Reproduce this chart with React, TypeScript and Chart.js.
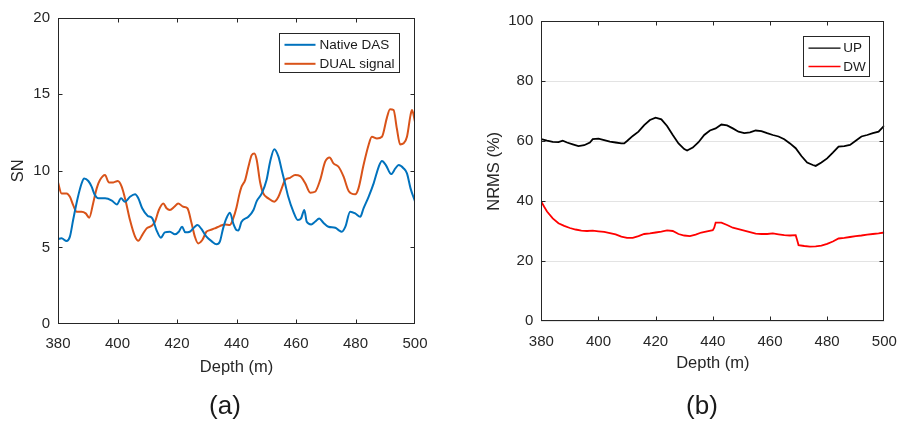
import React, { useEffect, useRef } from "react";
import { Chart, registerables } from "chart.js";

Chart.register(...registerables);

// ---------- data (a) ----------
const depthNative = [380, 381.2, 382.9, 384.0, 385.1, 386.6, 387.9, 388.8, 390.2, 391.3, 392.4, 393.6, 395.8, 398.1, 399.8, 401.2, 402.5, 404.2, 405.9, 407.0, 408.3, 410.1, 411.7, 413.1, 414.6, 415.9, 417.6, 419.3, 420.6, 421.7, 422.8, 424.3, 426.0, 426.9, 428.2, 429.9, 431.6, 433.3, 434.4, 435.5, 436.6, 437.8, 438.9, 440.0, 440.6, 441.7, 444.0, 445.7, 446.8, 448.5, 450.1, 451.3, 452.7, 454.1, 455.2, 456.3, 457.4, 459.1, 460.6, 461.7, 462.8, 463.6, 465.1, 466.4, 467.8, 469.2, 470.9, 473.2, 474.3, 475.4, 476.6, 478.2, 479.9, 481.6, 482.7, 484.4, 486.1, 487.8, 488.9, 490.2, 492.0, 493.4, 494.5, 496.2, 497.3, 498.5, 500];
const snNative = [5.54, 5.59, 5.41, 5.7, 6.8, 8.2, 9.15, 9.5, 9.33, 8.96, 8.41, 8.2, 8.2, 8.05, 7.8, 8.2, 7.98, 8.3, 8.46, 8.2, 7.55, 7.07, 6.89, 6.13, 5.63, 5.98, 6.02, 5.85, 6.02, 6.35, 5.98, 6.02, 6.35, 6.46, 6.2, 5.7, 5.41, 5.2, 5.37, 6.24, 6.89, 7.26, 6.57, 6.13, 6.1, 6.67, 7.0, 7.44, 8.02, 8.52, 9.39, 10.59, 11.41, 10.92, 10.05, 9.18, 8.3, 7.33, 6.78, 6.89, 7.44, 6.67, 6.5, 6.67, 6.89, 6.61, 6.35, 6.28, 6.13, 6.02, 6.35, 7.33, 7.22, 7.0, 7.55, 8.3, 9.18, 10.26, 10.63, 10.37, 9.78, 10.15, 10.37, 10.15, 9.83, 8.85, 8.0];

const depthDual = [380, 381.2, 382.9, 384.0, 385.1, 386.3, 387.9, 389.3, 390.5, 391.8, 393.0, 394.1, 395.8, 397.1, 398.6, 400.1, 401.4, 402.8, 404.2, 405.9, 407.0, 408.3, 409.8, 411.5, 412.6, 413.9, 415.4, 416.5, 417.6, 419.1, 420.4, 422.1, 423.5, 424.9, 426.0, 427.1, 428.5, 429.9, 431.1, 432.7, 434.4, 436.1, 437.8, 438.9, 440.0, 440.9, 441.7, 442.9, 444.0, 445.1, 446.0, 446.8, 447.9, 449.0, 450.7, 452.7, 454.1, 455.2, 456.3, 458.0, 459.7, 461.4, 463.1, 464.8, 466.4, 468.1, 469.8, 471.3, 472.6, 474.3, 476.0, 477.7, 479.9, 481.0, 482.7, 484.4, 485.5, 487.2, 488.9, 490.5, 491.6, 492.8, 493.9, 495.0, 496.2, 497.3, 498.5, 499.0, 500];
const snDual = [9.24, 8.52, 8.52, 8.3, 7.76, 7.33, 7.33, 7.22, 6.94, 7.87, 8.85, 9.39, 9.72, 9.24, 9.24, 9.33, 8.96, 7.98, 6.78, 5.7, 5.43, 5.8, 6.24, 6.41, 6.67, 7.44, 7.87, 7.55, 7.44, 7.65, 7.87, 7.65, 7.55, 6.57, 5.7, 5.26, 5.48, 6.02, 6.13, 6.24, 6.39, 6.5, 6.46, 6.89, 7.6, 8.41, 8.96, 9.39, 10.26, 11.02, 11.13, 10.7, 9.28, 8.52, 8.2, 7.98, 8.3, 8.85, 9.39, 9.54, 9.72, 9.65, 9.18, 8.57, 8.63, 9.39, 10.59, 10.87, 10.48, 10.26, 9.61, 8.68, 8.46, 8.85, 10.37, 11.68, 12.22, 12.11, 12.22, 13.42, 14.02, 13.96, 12.76, 11.72, 11.79, 12.22, 13.63, 13.96, 13.2];

// ---------- data (b) ----------
const depthUp = [380, 382, 384, 386, 387.5, 389, 391, 393, 395, 397, 398, 400, 402, 404, 406, 408, 409, 410, 412, 414, 416, 418, 420, 422, 424, 426, 428, 430, 431, 433, 435, 437, 439, 441, 443, 445, 447, 449, 451, 453, 455, 457, 459, 461, 463, 465, 467, 469, 471, 473, 475, 476, 478, 480, 482, 484, 486, 488, 490, 492, 494, 496, 498, 500];
const nrmsUp = [60.7, 60.2, 59.8, 59.7, 60.2, 59.6, 59.0, 58.4, 58.7, 59.6, 60.7, 60.9, 60.4, 59.9, 59.6, 59.3, 59.3, 60.1, 61.8, 63.2, 65.4, 67.1, 67.9, 67.3, 65.1, 62.1, 59.3, 57.4, 56.9, 57.9, 59.7, 62.1, 63.6, 64.3, 65.6, 65.3, 64.3, 63.2, 62.7, 63.0, 63.6, 63.4, 62.7, 62.1, 61.6, 60.7, 59.3, 57.7, 55.1, 52.9, 52.1, 51.8, 52.9, 54.3, 56.2, 58.2, 58.4, 58.8, 60.2, 61.6, 62.1, 62.7, 63.2, 65.2];

const depthDw = [380, 381, 382, 384, 386, 388, 390, 392, 394, 396, 398, 400, 402, 404, 406, 408, 410, 412, 414, 416, 418, 420, 422, 424, 426, 428, 430, 432, 434, 436, 438, 440, 440.5, 441, 443, 445, 447, 449, 451, 453, 455, 457, 459, 461, 463, 465, 467, 469, 469.5, 470, 472, 474, 476, 478, 480, 482, 484, 486, 488, 490, 492, 494, 496, 498, 500];
const nrmsDw = [39.9, 38.2, 36.6, 34.3, 32.7, 31.8, 31.1, 30.6, 30.2, 30.1, 30.2, 30.0, 29.8, 29.4, 29.0, 28.2, 27.8, 27.8, 28.4, 29.1, 29.3, 29.6, 29.9, 30.3, 30.1, 29.1, 28.6, 28.4, 28.9, 29.6, 30.0, 30.4, 31.2, 32.9, 32.9, 32.1, 31.2, 30.7, 30.2, 29.7, 29.2, 29.1, 29.1, 29.3, 29.0, 28.7, 28.6, 28.7, 27.1, 25.4, 25.1, 24.9, 25.0, 25.2, 25.8, 26.6, 27.6, 27.8, 28.1, 28.4, 28.6, 28.9, 29.1, 29.3, 29.6];

const labelsA = ["Native DAS", "DUAL signal"];
const labelsB = ["UP", "DW"];

const FONT = "'Liberation Sans', Arial, Helvetica, sans-serif";
const AXIS = "#262626";

const pts = (xs: number[], ys: number[]) => xs.map((x, i) => ({ x, y: ys[i] }));

const boxPlugin = {
  id: "mBox",
  afterDatasetsDraw(chart: any, _a: any, opts: any) {
    const { ctx, chartArea: a, scales } = chart;
    const L = Math.round(a.left) + 0.5;
    const R = Math.round(a.right) - 0.5;
    const T = Math.round(a.top) + 0.5;
    const B = Math.round(a.bottom) - 0.5;
    const clamp = (v: number, lo: number, hi: number) => Math.min(hi, Math.max(lo, v));
    ctx.save();
    ctx.strokeStyle = AXIS;
    ctx.lineWidth = 1;
    ctx.beginPath();
    const tl = 4;
    scales.x.ticks.forEach((t: any) => {
      const p = clamp(Math.round(scales.x.getPixelForValue(t.value)) + 0.5, L, R);
      ctx.moveTo(p, B); ctx.lineTo(p, B - tl);
      ctx.moveTo(p, T); ctx.lineTo(p, T + tl);
    });
    scales.y.ticks.forEach((t: any) => {
      const p = clamp(Math.round(scales.y.getPixelForValue(t.value)) + 0.5, T, B);
      ctx.moveTo(L, p); ctx.lineTo(L + tl, p);
      ctx.moveTo(R, p); ctx.lineTo(R - tl, p);
    });
    ctx.stroke();
    ctx.strokeRect(L, T, R - L, B - T);

    // legend box
    const lg = opts;
    if (lg && lg.w) {
      const x0 = Math.round(a.right - lg.right - lg.w) + 0.5;
      const y0 = Math.round(a.top + lg.top) + 0.5;
      ctx.fillStyle = "#ffffff";
      ctx.fillRect(x0, y0, lg.w, lg.h);
      ctx.strokeStyle = AXIS;
      ctx.strokeRect(x0, y0, lg.w, lg.h);
      ctx.font = `${lg.fontSize}px ${FONT}`;
      ctx.textBaseline = "middle";
      ctx.textAlign = "left";
      chart.data.datasets.forEach((ds: any, i: number) => {
        const yy = y0 + lg.rows[i];
        ctx.strokeStyle = ds.borderColor;
        ctx.lineWidth = lg.lineWidth;
        ctx.beginPath();
        ctx.moveTo(x0 + lg.lineStart, yy);
        ctx.lineTo(x0 + lg.lineEnd, yy);
        ctx.stroke();
        ctx.fillStyle = "#1a1a1a";
        ctx.fillText(ds.label, x0 + lg.textX, yy + 0.5);
      });
    }
    ctx.restore();
  },
};

function makeOptions(p: any) {
  return {
    responsive: false,
    animation: false,
    layout: { padding: p.padding },
    plugins: {
      legend: { display: false },
      tooltip: { enabled: false },
      mBox: p.legend,
    },
    elements: { point: { radius: 0 } },
    scales: {
      x: {
        type: "linear",
        min: 380,
        max: 500,
        border: { display: false },
        grid: { display: false, drawTicks: false },
        ticks: { stepSize: 20, color: AXIS, padding: p.xTickPad, font: { size: 15, family: FONT }, maxRotation: 0 },
        title: { display: true, text: "Depth (m)", color: AXIS, font: { size: 16.5, family: FONT }, padding: 4 },
        afterFit: (s: any) => { s.height = p.xH; s.paddingLeft = 0; s.paddingRight = 0; },
      },
      y: {
        type: "linear",
        min: p.yMin,
        max: p.yMax,
        border: { display: false },
        grid: { display: p.yGrid, drawTicks: false, color: "#e3e3e3", lineWidth: 1 },
        ticks: { stepSize: p.yStep, color: AXIS, padding: 8, font: { size: 15, family: FONT } },
        title: { display: true, text: p.yTitle, color: AXIS, font: { size: 16.5, family: FONT }, padding: 4 },
        afterFit: (s: any) => { s.width = p.yW; s.paddingTop = 0; s.paddingBottom = 0; },
      },
    },
  };
}

export default function App() {
  const refA = useRef<HTMLCanvasElement>(null);
  const refB = useRef<HTMLCanvasElement>(null);

  useEffect(() => {
    Chart.defaults.font.family = FONT;
    const chartA = new Chart(refA.current as HTMLCanvasElement, {
      type: "line",
      data: {
        datasets: [
          { label: labelsA[0], data: pts(depthNative, snNative), borderColor: "#0072BD", borderWidth: 2, cubicInterpolationMode: "monotone", fill: false },
          { label: labelsA[1], data: pts(depthDual, snDual), borderColor: "#D95319", borderWidth: 2, cubicInterpolationMode: "monotone", fill: false },
        ],
      },
      options: makeOptions({
        padding: { left: 5, top: 17.5, right: 33, bottom: 41 },
        xH: 57, yW: 53, xTickPad: 11,
        yMin: 0, yMax: 20, yStep: 5, yGrid: false, yTitle: "SN",
        legend: { right: 16, top: 15.5, w: 120, h: 39, lineStart: 5, lineEnd: 36, textX: 40, rows: [11.3, 30.3], fontSize: 13.5, lineWidth: 2 },
      }) as any,
      plugins: [boxPlugin],
    });
    const chartB = new Chart(refB.current as HTMLCanvasElement, {
      type: "line",
      data: {
        datasets: [
          { label: labelsB[0], data: pts(depthUp, nrmsUp), borderColor: "#000000", borderWidth: 1.8, tension: 0, fill: false },
          { label: labelsB[1], data: pts(depthDw, nrmsDw), borderColor: "#FF0000", borderWidth: 1.8, tension: 0, fill: false },
        ],
      },
      options: makeOptions({
        padding: { left: 33, top: 21.3, right: 12.7, bottom: 45 },
        xH: 55.7, yW: 60.3, xTickPad: 12,
        yMin: 0, yMax: 100, yStep: 20, yGrid: true, yTitle: "NRMS (%)",
        legend: { right: 15.3, top: 14.7, w: 66, h: 40, lineStart: 5, lineEnd: 37, textX: 39.7, rows: [11.7, 30], fontSize: 13.5, lineWidth: 1.3 },
      }) as any,
      plugins: [boxPlugin],
    });
    return () => {
      chartA.destroy();
      chartB.destroy();
    };
  }, []);

  const cap: React.CSSProperties = {
    position: "absolute",
    top: 390,
    width: 100,
    height: 30,
    lineHeight: "30px",
    textAlign: "center",
    fontFamily: FONT,
    fontSize: 26,
    color: "#1a1a1a",
  };

  return (
    <div style={{ position: "fixed", left: 0, top: 0, width: 897, height: 422, background: "#ffffff", overflow: "hidden" }}>
      <canvas ref={refA} width={448} height={422} style={{ position: "absolute", left: 0, top: 0, width: 448, height: 422 }} />
      <canvas ref={refB} width={449} height={422} style={{ position: "absolute", left: 448, top: 0, width: 449, height: 422 }} />
      <div style={{ ...cap, left: 175 }}>(a)</div>
      <div style={{ ...cap, left: 652 }}>(b)</div>
    </div>
  );
}
